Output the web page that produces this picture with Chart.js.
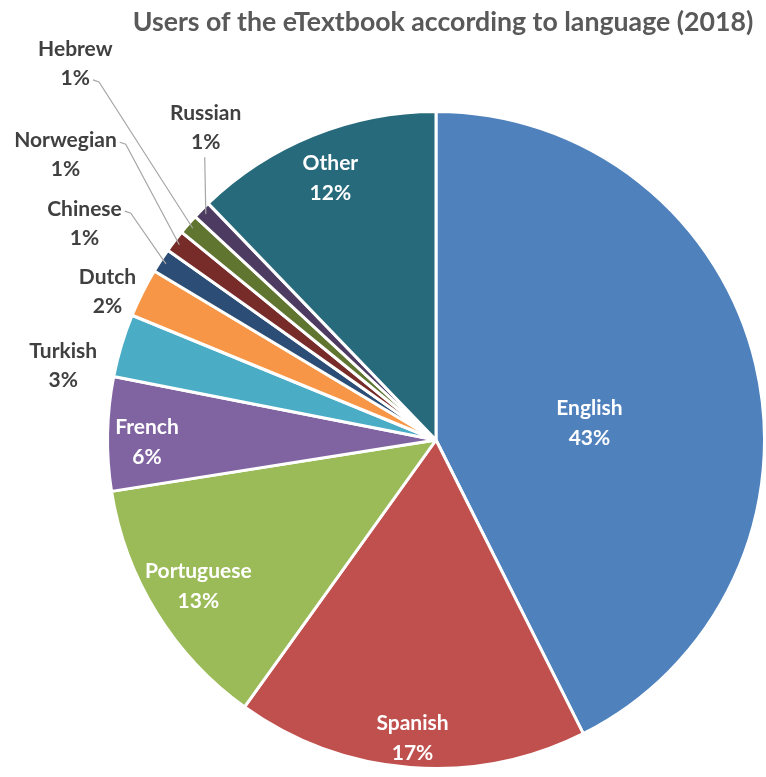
<!DOCTYPE html>
<html>
<head>
<meta charset="utf-8">
<script src="https://cdn.jsdelivr.net/npm/chart.js@4.4.1/dist/chart.umd.min.js"></script>
<style>
  html, body { margin: 0; padding: 0; background: #fff; }
  #wrap { width: 766px; height: 777px; position: relative; }
</style>
</head>
<body>
<div id="wrap"><canvas id="graph"></canvas></div>
<script>
const languages = ['English', 'Spanish', 'Portuguese', 'French', 'Turkish', 'Dutch',
  'Chinese', 'Norwegian', 'Hebrew', 'Russian', 'Other'];
const shares = [42.6, 17.3, 12.6, 5.6, 3.1, 2.4, 1.2, 1.1, 1.0, 0.9, 12.2];
const colours = ['#4f81bd', '#c0504d', '#9bbb59', '#8064a2', '#4bacc6', '#f79646',
  '#2c4d75', '#772c2a', '#5f7530', '#4d3b62', '#276a7c'];
const titleText = 'Users of the eTextbook according to language (2018)';

// inside labels: [fraction of radius, turn from the mid angle in degrees]
const insideLabels = {
  English: [0.47, 7], Spanish: [0.91, 0], Portuguese: [0.85, 0],
  French: [0.88, -1.5], Other: [0.86, 0]
};
// outside labels: offset from the centre in radius units, and where the leader starts
const outsideLabels = {
  Turkish: [-1.135, -0.228, null],
  Dutch: [-1.0, -0.452, null],
  Chinese: [-1.07, -0.66, 'name'],
  Norwegian: [-1.128, -0.87, 'name'],
  Hebrew: [-1.098, -1.148, 'pct'],
  Russian: [-0.701, -0.952, 'down']
};

const FONT = 'Lato, "Open Sans", sans-serif';

const labelPlugin = {
  id: 'sliceLabels',
  afterDraw(chart) {
    const ctx = chart.ctx;
    const arcs = chart.getDatasetMeta(0).data;
    ctx.save();
    ctx.textAlign = 'center';
    ctx.textBaseline = 'middle';

    // title, sized to the width it has in the original
    let size = 24;
    ctx.font = 'bold ' + size + 'px ' + FONT;
    size = size * 620 / ctx.measureText(titleText).width;
    ctx.font = 'bold ' + size.toFixed(1) + 'px ' + FONT;
    ctx.fillStyle = '#595959';
    ctx.fillText(titleText, 443, 22);

    ctx.font = 'bold 21px ' + FONT;
    arcs.forEach((arc, i) => {
      const name = languages[i];
      const pct = Math.round(shares[i]) + '%';
      const mid = (arc.startAngle + arc.endAngle) / 2;
      const cx = arc.x, cy = arc.y, r = arc.outerRadius;
      if (insideLabels[name]) {
        const [f, turn] = insideLabels[name];
        const a = mid + turn * Math.PI / 180;
        const x = cx + Math.cos(a) * f * r, y = cy + Math.sin(a) * f * r;
        ctx.fillStyle = '#ffffff';
        ctx.fillText(name, x, y - 15);
        ctx.fillText(pct, x, y + 15);
      } else if (outsideLabels[name]) {
        const [ox, oy, lead] = outsideLabels[name];
        const x = cx + ox * r, y = cy + oy * r;
        ctx.fillStyle = '#404040';
        ctx.fillText(name, x, y - 14);
        ctx.fillText(pct, x, y + 15);
        if (!lead) return;
        const ex = cx + Math.cos(mid) * (r - 6), ey = cy + Math.sin(mid) * (r - 6);
        ctx.strokeStyle = '#a6a6a6';
        ctx.lineWidth = 1.2;
        ctx.beginPath();
        if (lead === 'down') {
          ctx.moveTo(x - 1, y + 30);
          ctx.lineTo(ex, ey);
        } else {
          const txt = lead === 'pct' ? pct : name;
          const ty = lead === 'pct' ? y + 17 : y - 12;
          const sx = x + ctx.measureText(txt).width / 2 + 3;
          ctx.moveTo(sx, ty);
          ctx.lineTo(sx + 6, ty + 2);
          ctx.lineTo(ex, ey);
        }
        ctx.stroke();
      }
    });
    ctx.restore();
  }
};

new Chart(document.getElementById('graph').getContext('2d'), {
  type: 'pie',
  data: {
    labels: languages,
    datasets: [{
      data: shares,
      backgroundColor: colours,
      borderColor: '#ffffff',
      borderWidth: 3
    }]
  },
  options: {
    responsive: true,
    maintainAspectRatio: false,
    animation: false,
    layout: { padding: { left: 106, right: 0, top: 109, bottom: 6 } },
    plugins: {
      legend: { display: false },
      tooltip: { enabled: false }
    }
  },
  plugins: [labelPlugin]
});
</script>
</body>
</html>
